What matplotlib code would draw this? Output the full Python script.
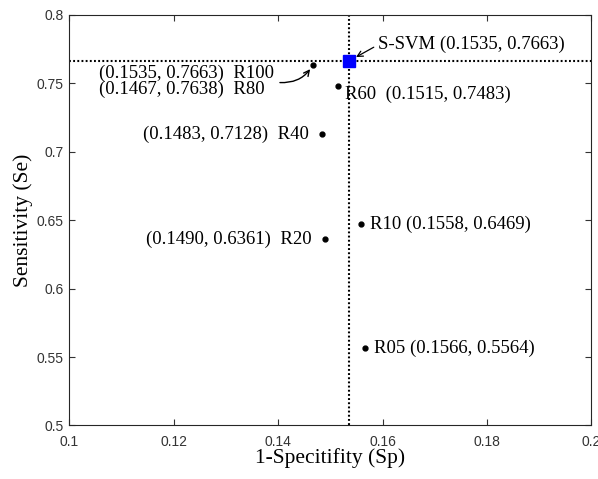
import numpy as np
import matplotlib
matplotlib.use('Agg')
import matplotlib.pyplot as plt
from matplotlib.ticker import FormatStrFormatter

# S-SVM operating point
svm_x, svm_y = 0.1535, 0.7663
# reduced training sets (1-Sp, Se)
runs = ['R100', 'R80', 'R60', 'R40', 'R20', 'R10', 'R05']
fpr = [0.1535, 0.1467, 0.1515, 0.1483, 0.1490, 0.1558, 0.1566]
sens = [0.7663, 0.7638, 0.7483, 0.7128, 0.6361, 0.6469, 0.5564]

xticks = [0.1, 0.12, 0.14, 0.16, 0.18, 0.2]
yticks = [0.5, 0.55, 0.6, 0.65, 0.7, 0.75, 0.8]

fig = plt.figure(figsize=(5.98, 4.79), dpi=100)
ax = fig.add_axes([0.1162, 0.1117, 0.8729, 0.8570])

dots = (0, (0.9, 1.1))
ax.axhline(svm_y, color='k', lw=1.5, ls=dots, zorder=1)
ax.axvline(svm_x, color='k', lw=1.5, ls=dots, zorder=1)
ax.plot(fpr, sens, 'o', ms=3.5, color='k', ls='none', zorder=2)
ax.plot(svm_x, svm_y, 's', ms=8, color='#0000ff', mec='#0000ff', zorder=3)

serif = dict(family='Liberation Serif', fontsize=13.5)

def pt(i):
    return '(%.4f, %.4f)' % (fpr[i], sens[i])

# labels right of the point
for i, dx, dy, gap in [(2, 5, -6, '  '), (5, 6.5, 0, ' '), (6, 6.5, 0, ' ')]:
    ax.annotate(runs[i] + gap + pt(i), (fpr[i], sens[i]), xytext=(dx, dy),
                textcoords='offset points', ha='left', va='center', **serif)
# labels left of the point
for i in [3, 4]:
    ax.annotate(pt(i) + '  ' + runs[i], (fpr[i], sens[i]), xytext=(-9.5, 0),
                textcoords='offset points', ha='right', va='center', **serif)

# R100 / R80 block with curved arrow to R80
ax.annotate(pt(0) + '  ' + runs[0] + '\n' + pt(1) + '  ' + runs[1],
            (fpr[1], sens[1]), xytext=(-154, -12.2), textcoords='offset points',
            ha='left', va='center', linespacing=0.95, **serif)
ax.annotate('', (fpr[1], sens[1]), xytext=(-24, -13), textcoords='offset points',
            arrowprops=dict(arrowstyle='->', lw=1.0, color='k', shrinkA=0, shrinkB=4,
                            connectionstyle='arc3,rad=0.3'))

# S-SVM label
ax.annotate('S-SVM ' + '(%.4f, %.4f)' % (svm_x, svm_y), (svm_x, svm_y), xytext=(21, 12),
            textcoords='offset points', ha='left', va='center', **serif)
ax.annotate('', (svm_x, svm_y), xytext=(18, 10), textcoords='offset points',
            arrowprops=dict(arrowstyle='->', lw=0.9, color='k', shrinkA=0, shrinkB=6))

ax.set_xlim(0.1, 0.2)
ax.set_ylim(0.5, 0.8)
ax.set_xticks(xticks)
ax.set_yticks(yticks)
ax.xaxis.set_major_formatter(FormatStrFormatter('%g'))
ax.yaxis.set_major_formatter(FormatStrFormatter('%g'))
ax.tick_params(direction='in', top=True, right=True, length=4.5, width=0.8,
               labelsize=10, colors='0.2')
ax.tick_params(axis='x', pad=6.5)
ax.tick_params(axis='y', pad=4)
for lbl in ax.get_xticklabels() + ax.get_yticklabels():
    lbl.set_family('Liberation Sans')
for s in ax.spines.values():
    s.set_linewidth(0.8)
    s.set_color('0.15')

ax.set_xlabel('1-Specitifity (Sp)', family='Liberation Serif', fontsize=15.5, va='center')
ax.set_ylabel('Sensitivity (Se)', family='Liberation Serif', fontsize=15.5, va='center')
ax.xaxis.set_label_coords(0.5, -0.079)
ax.yaxis.set_label_coords(-0.088, 0.5)

fig.savefig('out.png', dpi=100)
